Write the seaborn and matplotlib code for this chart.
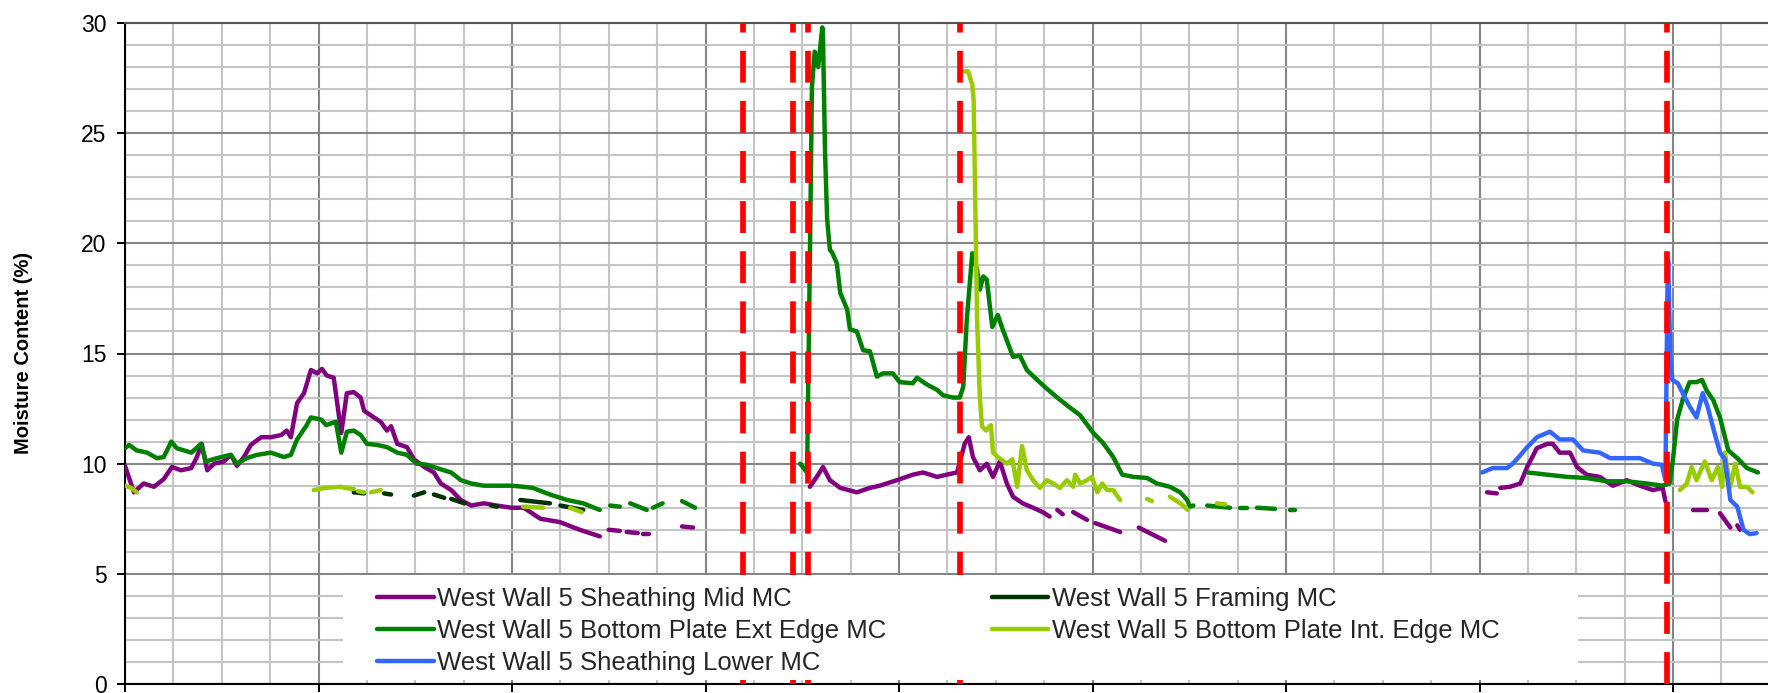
import numpy as np
import pandas as pd
import matplotlib
matplotlib.use("Agg")
import matplotlib.pyplot as plt
import seaborn as sns
from matplotlib.lines import Line2D
from matplotlib.patches import Rectangle

nan = np.nan

# ---------------- data (x = days from start, y = moisture content %) ----------------
series_names = [
    "West Wall 5 Sheathing Mid MC",
    "West Wall 5 Framing MC",
    "West Wall 5 Bottom Plate Ext Edge MC",
    "West Wall 5 Bottom Plate Int. Edge MC",
    "West Wall 5 Sheathing Lower MC",
]

mid_day = [0, 1.3, 2.7, 4.2, 5.6, 6.8, 8.1, 9.6, 10.4, 11.1, 11.9, 12.9, 14.3, 15.3, 16.2, 17.2,
           18.2, 19.7, 21.1, 22.6, 23.4, 24.0, 24.9, 25.9, 26.9, 27.8, 28.5, 29.2, 30.2, 31.3,
           32.1, 33.1, 34.1, 34.6, 36.0, 37.0, 37.9, 38.5, 39.4, 40.8, 41.8, 43.3, 44.7, 45.7,
           47.2, 48.6, 50.1, 51.9, 53.8, 55.9, 57.7, 60.1, 62.9, 65.8, 68.7, nan,
           70.0, 71.6, nan, 72.6, 74.2, nan, 75.0, 75.8, nan, 80.6, 82.2, nan,
           99.1, 100.1, 101.0, 102.0, 103.5, 105.9, 107.8, 109.2, 111.7, 114.0, 115.5, 117.5,
           118.9, 120.4, 121.5, 122.1, 122.7, 123.7, 124.7, 125.6, 126.6, 127.6, 128.5, 129.9,
           131.4, 132.8, 133.8, nan, 134.9, 135.7, nan, 137.2, 139.2, nan, 140.4, 144.0, nan,
           146.7, 150.5, nan,
           197.1, 198.5, nan, 199.0, 200.4, 201.9, 202.9, 204.3, 205.8, 206.6, 207.6, 209.1,
           210.1, 211.5, 213.4, 215.3, 217.3, 219.2, 221.1, 222.5, 222.9, nan,
           226.9, 228.9, nan, 230.8, 232.3, nan, 233.3, 233.7]
mid_mc = [9.9, 8.7, 9.1, 8.95, 9.3, 9.85, 9.7, 9.8, 10.3, 10.9, 9.7, 10.0, 10.1, 10.4, 9.9, 10.3,
          10.85, 11.2, 11.2, 11.3, 11.5, 11.2, 12.75, 13.2, 14.25, 14.1, 14.3, 14.0, 13.9, 11.4,
          13.2, 13.25, 13.0, 12.4, 12.1, 11.9, 11.5, 11.7, 10.9, 10.75, 10.2, 9.85, 9.6, 9.1,
          8.8, 8.35, 8.1, 8.2, 8.1, 8.0, 8.0, 7.5, 7.35, 7.0, 6.7, nan,
          7.0, 6.95, nan, 6.9, 6.85, nan, 6.8, 6.8, nan, 7.15, 7.1, nan,
          8.95, 9.4, 9.85, 9.25, 8.9, 8.7, 8.9, 9.0, 9.25, 9.5, 9.6, 9.4,
          9.5, 9.6, 10.9, 11.2, 10.3, 9.7, 10.0, 9.4, 10.1, 9.1, 8.5, 8.2,
          8.0, 7.8, 7.6, nan, 7.9, 7.7, nan, 7.8, 7.45, nan, 7.3, 6.9, nan,
          7.1, 6.5, nan,
          8.7, 8.65, nan, 8.9, 8.95, 9.1, 9.85, 10.7, 10.9, 10.9, 10.5, 10.5,
          9.85, 9.5, 9.4, 9.0, 9.25, 9.0, 8.8, 8.9, 8.3, nan,
          7.9, 7.9, nan, 7.75, 7.1, nan, 7.2, 7.0]

frm_day = [33.1, 34.6, nan, 37.5, 38.5, nan, 41.8, 43.3, nan, 44.7, 46.2, nan, 47.2, 49.1, nan,
           53.0, 53.8, nan, 57.2, 61.5, nan, 63.0, 66.3]
frm_mc = [8.7, 8.65, nan, 8.65, 8.6, nan, 8.55, 8.7, nan, 8.6, 8.45, nan, 8.4, 8.2, nan,
          8.1, 8.05, nan, 8.35, 8.2, nan, 8.1, 7.9]

ext_day = [0, 0.6, 1.7, 3.2, 4.6, 5.6, 6.7, 7.5, 9.6, 11.0, 11.7, 13.3, 15.3, 16.2, 17.6, 19.1,
           21.1, 23.0, 24.0, 24.9, 26.2, 26.9, 28.4, 29.1, 30.5, 31.3, 32.1, 33.1, 34.1, 35.0,
           36.5, 37.9, 39.4, 40.8, 42.2, 43.7, 45.1, 47.2, 48.6, 50.1, 51.9, 53.8, 55.9, 57.7,
           59.0, 61.5, 64.0, 66.3, 68.7, nan, 70.2, 71.6, nan, 73.1, 75.5, nan, 76.4, 77.8, nan,
           80.6, 82.5, nan,
           97.7, 98.7, 99.1, 99.4, 99.8, 100.3, 100.9, 101.0, 101.3, 101.6, 102.0, 102.3, 103.0,
           103.5, 104.5, 104.9, 105.9, 106.8, 107.8, 108.8, 109.7, 111.1, 112.1, 114.0, 114.6,
           116.0, 117.5, 118.4, 119.8, 120.8, 121.3, 121.8, 122.6, 123.3, 123.7, 124.2, 124.7,
           125.5, 126.3, 127.0, 128.5, 129.5, 130.5, 132.0, 133.4, 134.9, 136.3, 138.2, 140.1,
           141.5, 143.0, 144.3, 145.9, 147.9, 149.3, 151.2, 152.7, 153.7, 154.1, 154.6, nan,
           156.6, 159.9, nan, 161.3, 162.4, nan, 163.8, 166.4, nan, 168.6, 169.3, nan,
           203.0, 205.8, 208.7, 211.5, 214.4, 217.3, 220.2, 222.5, 223.5, 224.0, 224.6, 225.4,
           226.4, 227.4, 228.2, 228.9, 229.8, 230.8, 232.0, 233.3, 234.7, 236.3]
ext_mc = [10.7, 10.85, 10.6, 10.5, 10.25, 10.3, 11.0, 10.7, 10.5, 10.9, 10.1, 10.25, 10.4, 10.0,
          10.25, 10.4, 10.5, 10.3, 10.4, 11.1, 11.7, 12.1, 12.0, 11.75, 11.9, 10.5, 11.45, 11.5,
          11.3, 10.9, 10.85, 10.75, 10.5, 10.4, 10.0, 9.95, 9.8, 9.6, 9.25, 9.1, 9.0, 9.0, 9.0,
          8.95, 8.9, 8.6, 8.35, 8.2, 7.9, nan, 8.1, 8.05, nan, 8.2, 7.9, nan, 8.0, 8.2, nan,
          8.3, 8.0, nan,
          10.0, 9.6, 19.2, 27.1, 28.7, 28.0, 29.8, 29.4, 24.1, 21.1, 19.7, 19.6, 19.1,
          17.75, 17.0, 16.1, 16.0, 15.15, 15.1, 13.95, 14.1, 14.1, 13.7, 13.65, 13.9,
          13.6, 13.35, 13.1, 13.0, 13.0, 13.5, 16.5, 19.55, 18.8, 17.9, 18.5, 18.35,
          16.2, 16.75, 16.1, 14.85, 14.9, 14.25, 13.8, 13.4, 13.0, 12.65, 12.2, 11.4,
          10.95, 10.3, 9.5, 9.4, 9.35, 9.1, 8.95, 8.7, 8.35, 8.05, 8.1, nan,
          8.1, 8.0, nan, 8.0, 8.0, nan, 8.0, 7.95, nan, 7.9, 7.9, nan,
          9.6, 9.5, 9.4, 9.35, 9.2, 9.2, 9.1, 9.0, 9.1, 10.2, 12.0, 12.9,
          13.7, 13.7, 13.8, 13.3, 12.9, 12.1, 10.6, 10.25, 9.8, 9.6]

int_day = [0, 0.9, 1.7, nan, 27.3, 28.9, 31.3, nan, 31.7, 33.1, nan, 33.7, 34.6, nan, 35.6, 37.0,
           nan, 57.6, 60.5, nan, 64.4, 66.1, nan,
           121.3, 122.0, 122.6, 122.8, 123.3, 123.7, 124.0, 124.6, 125.3, 125.6, 126.3, 127.6,
           128.4, 129.1, 129.8, 130.5, 131.4, 132.4, 133.4, 134.3, 135.3, 136.3, 137.2, 137.5,
           138.2, 139.2, 139.9, 140.7, 141.4, 142.1, 143.0, 144.0, nan, 147.9, 148.6, nan,
           151.2, 152.7, 153.8, nan, 158.0, 159.2, nan,
           225.0, 226.0, 226.7, 227.4, 228.6, 229.6, 230.5, 231.1, 231.5, 232.3, 233.0, 233.7,
           234.7, 235.5]
int_mc = [9.0, 8.9, 8.7, nan, 8.8, 8.9, 8.95, nan, 8.9, 8.85, nan, 8.75, 8.7, nan, 8.7, 8.8,
          nan, 8.05, 8.0, nan, 8.0, 7.8, nan,
          27.8, 27.8, 27.2, 26.5, 16.5, 13.0, 11.7, 11.5, 11.75, 10.5, 10.3, 10.0,
          10.2, 8.95, 10.8, 9.7, 9.25, 8.9, 9.25, 9.1, 8.9, 9.25, 8.95, 9.5,
          9.1, 9.25, 9.4, 8.7, 9.1, 8.8, 8.8, 8.35, nan, 8.4, 8.3, nan,
          8.5, 8.2, 7.9, nan, 8.2, 8.15, nan,
          8.8, 9.1, 9.85, 9.25, 10.1, 9.25, 9.85, 8.95, 10.5, 8.95, 10.0, 8.95,
          8.95, 8.7]

low_day = [196.4, 197.9, 200.0, 200.8, 201.4, 202.9, 204.3, 205.8, 206.2, 207.6, 209.5, 211.0,
           213.4, 214.9, 217.3, 219.2, 221.1, 222.4, 222.9, 223.2, 223.3, 223.6, 223.9, 224.7,
           225.4, 226.4, 227.4, 228.3, 229.0, 230.0, 230.8, 231.5, 232.3, 233.3, 234.2, 235.1,
           236.1]
low_mc = [9.6, 9.8, 9.8, 10.0, 10.2, 10.75, 11.2, 11.4, 11.45, 11.1, 11.1, 10.6,
          10.5, 10.25, 10.25, 10.25, 10.0, 9.95, 9.25, 18.0, 19.2, 15.0, 13.8, 13.65,
          13.2, 12.6, 12.1, 13.2, 12.6, 11.4, 10.5, 10.2, 8.35, 8.05, 7.0, 6.8,
          6.85]

event_days = [89.4, 96.7, 98.9, 120.8, 223.1]
y_ticks = [0, 5, 10, 15, 20, 25, 30]
y_label = "Moisture Content (%)"

colors = ["#800080", "#003300", "#008000", "#99CC00", "#3366FF"]


def to_frame(days, mc):
    d = np.asarray(days, dtype=float)
    v = np.asarray(mc, dtype=float)
    seg = np.cumsum(np.isnan(d))
    return pd.DataFrame({"day": d, "mc": v, "seg": seg}).dropna()


sns.set_style("white")
plt.rcParams["font.family"] = ["Liberation Sans", "DejaVu Sans"]

W, H = 1768, 693
fig = plt.figure(figsize=(W / 100, H / 100), dpi=100)
ax = fig.add_axes([125 / W, (H - 684) / H, 1 - 125 / W, (684 - 23) / H])

LW = 3.2
series = [(mid_day, mid_mc), (frm_day, frm_mc), (ext_day, ext_mc),
          (int_day, int_mc), (low_day, low_mc)]
for (d, v), c in zip(series, colors):
    df = to_frame(d, v)
    sns.lineplot(data=df, x="day", y="mc", units="seg", estimator=None, color=c,
                 linewidth=LW, ax=ax, legend=False, zorder=3)

ax.vlines(event_days, 0, 30, colors="#FF0000", linewidth=4.1,
          linestyles=[(0, (5.6, 3.2))], zorder=4)

ax.set_xlim(0, (W - 125) * 28 / 193.5)
ax.set_ylim(0, 30)
ax.set_xticks(np.arange(0, 238, 28))
ax.set_xticks(np.arange(0, 238, 7), minor=True)
ax.set_yticks(y_ticks)
ax.set_yticks(np.arange(0, 31, 1), minor=True)
ax.set_axisbelow(True)
ax.grid(which="minor", color="#C4C4C4", linewidth=1.5)
ax.grid(which="major", color="#858585", linewidth=1.5)
ax.set_xlabel("")
ax.set_ylabel("")
ax.tick_params(axis="x", which="major", direction="out", length=6, width=1.4,
               color="black", labelbottom=False, bottom=True)
ax.tick_params(axis="x", which="minor", length=0)
ax.tick_params(axis="y", which="major", direction="out", length=5.8, width=1.4,
               color="black", labelsize=16.5, pad=7.5, left=True)
ax.tick_params(axis="y", which="minor", length=0)
for lab in ax.get_yticklabels():
    lab.set_color("black")

ax.spines["right"].set_visible(False)
ax.spines["top"].set_color("#555555")
ax.spines["top"].set_linewidth(1.5)
for s in ("left", "bottom"):
    ax.spines[s].set_color("black")
    ax.spines[s].set_linewidth(1.5)

fig.text(24 / W, 1 - 353 / H, y_label, rotation=90, ha="center", va="center",
         fontsize=14.5, fontweight="bold", color="black")

# legend box (white, borderless) covering the lower part of the plot
fig.patches.append(Rectangle((343 / W, (H - 680) / H), (1578 - 343) / W, (680 - 575) / H,
                             transform=fig.transFigure, facecolor="white",
                             edgecolor="none", zorder=5))
handles = [Line2D([], [], color=c, linewidth=LW) for c in colors]
order = [0, 2, 4, 1, 3]
leg = fig.legend([handles[i] for i in order], [series_names[i] for i in order],
                 ncol=2, loc="center",
                 bbox_to_anchor=(377 / W, (H - 683) / H, (1500 - 377) / W, (683 - 579) / H),
                 mode="expand", frameon=False, fontsize=18.5, handlelength=2.2,
                 handletextpad=0.15, labelspacing=0.33, borderpad=0, borderaxespad=0,
                 columnspacing=1.0)
leg.set_zorder(6)

fig.savefig("out.png", dpi=100)
